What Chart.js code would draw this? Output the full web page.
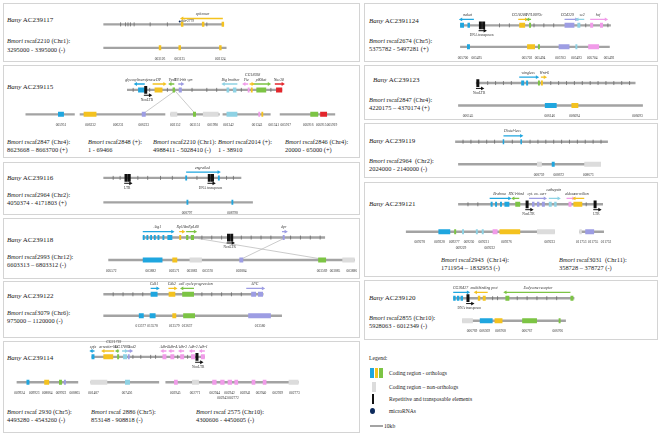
<!DOCTYPE html>
<html lang="en">
<head>
  <meta charset="UTF-8">
  <title>Bany BAC clones vs Bmori scaffolds</title>
  <script src="https://cdn.jsdelivr.net/npm/chart.js"></script>
  <style>
    * { margin: 0; padding: 0; box-sizing: border-box; }
    body { width: 661px; height: 436px; background: #fff; overflow: hidden;
      font-family: "Liberation Serif", "Times New Roman", serif; color: #222; }
    #wrap { position: relative; width: 661px; height: 436px; }
    .panel { position: absolute; border: 1px solid #d4d4d4; }
    .lbl { position: absolute; font-size: 6.4px; line-height: 8.6px; white-space: nowrap; }
    .lbl.bany { font-size: 7px; }
    #chart { position: absolute; left: 0; top: 0; z-index: 2; }
    /* legend */
    .leg { position: absolute; font-size: 5.6px; white-space: nowrap; line-height: 8px; }
    .sw { position: absolute; }
  </style>
</head>
<body>
<div id="wrap">
  <!-- panel boxes -->
  <div class="panel" style="left:3px;top:3px;width:357px;height:59px"></div>
  <div class="panel" style="left:3px;top:65px;width:357px;height:93px"></div>
  <div class="panel" style="left:3px;top:162px;width:357px;height:53px"></div>
  <div class="panel" style="left:3px;top:218px;width:357px;height:61px"></div>
  <div class="panel" style="left:3px;top:281px;width:357px;height:57px"></div>
  <div class="panel" style="left:3px;top:341px;width:357px;height:92px"></div>
  <div class="panel" style="left:364px;top:3px;width:294px;height:59px"></div>
  <div class="panel" style="left:364px;top:65px;width:294px;height:55px"></div>
  <div class="panel" style="left:364px;top:123px;width:294px;height:55px"></div>
  <div class="panel" style="left:364px;top:182px;width:294px;height:95px"></div>
  <div class="panel" style="left:364px;top:280px;width:294px;height:60px"></div>

  <!-- left column labels -->
  <div class="lbl bany" style="left:7px;top:16px"><i>Bany</i> AC239117</div>
  <div class="lbl" style="left:7px;top:37px"><i>Bmori</i> rscaf2210 (Chr1):<br>3295000 - 3395000 (-)</div>

  <div class="lbl bany" style="left:7px;top:82.5px"><i>Bany</i> AC239115</div>
  <div class="lbl" style="left:7px;top:137.5px"><i>Bmori</i> rscaf2847 (Chr4):<br>8623668 – 8663700 (+)</div>
  <div class="lbl" style="left:88px;top:137.5px"><i>Bmori</i> rscaf2848 (+):<br>1 - 69466</div>
  <div class="lbl" style="left:153px;top:137.5px"><i>Bmori</i> rscaf2210 (Chr1):<br>4988411 - 5028410 (-)</div>
  <div class="lbl" style="left:218px;top:137.5px"><i>Bmori</i> rscaf2014 (+):<br>1 - 38910</div>
  <div class="lbl" style="left:285px;top:137.5px"><i>Bmori</i> rscaf2846 (Chr4):<br>20000 - 65000 (+)</div>

  <div class="lbl bany" style="left:7px;top:173.5px"><i>Bany</i> AC239116</div>
  <div class="lbl" style="left:7px;top:190.5px"><i>Bmori</i> rscaf2964 (Chr2):<br>4050374 - 4171803 (+)</div>

  <div class="lbl bany" style="left:7px;top:235.5px"><i>Bany</i> AC239118</div>
  <div class="lbl" style="left:7px;top:252.5px"><i>Bmori</i> rscaf2993 (Chr12):<br>6603313 – 6803312 (-)</div>

  <div class="lbl bany" style="left:7px;top:291.5px"><i>Bany</i> AC239122</div>
  <div class="lbl" style="left:7px;top:308.5px"><i>Bmori</i> rscaf3079 (Chr6):<br>975000 – 1120000 (-)</div>

  <div class="lbl bany" style="left:7px;top:353.5px"><i>Bany</i> AC239114</div>
  <div class="lbl" style="left:7px;top:407.5px"><i>Bmori</i> rscaf 2930 (Chr5):<br>4493280 - 4543260 (-)</div>
  <div class="lbl" style="left:91px;top:407.5px"><i>Bmori</i> rscaf 2886 (Chr5):<br>853148 - 908818 (-)</div>
  <div class="lbl" style="left:196px;top:407.5px"><i>Bmori</i> rscaf 2575 (Chr10):<br>4300606 - 4450605 (-)</div>

  <!-- right column labels -->
  <div class="lbl bany" style="left:369px;top:16.5px"><i>Bany</i> AC2391124</div>
  <div class="lbl" style="left:369px;top:36.5px"><i>Bmori</i> rscaf2674 (Chr5):<br>5375782 - 5497281 (+)</div>

  <div class="lbl bany" style="left:373px;top:75.5px"><i>Bany</i> AC239123</div>
  <div class="lbl" style="left:369px;top:95.5px"><i>Bmori</i> rscaf2847 (Chr4):<br>4220175 – 4370174 (+)</div>

  <div class="lbl bany" style="left:369px;top:136.5px"><i>Bany</i> AC239119</div>
  <div class="lbl" style="left:369px;top:156.5px"><i>Bmori</i> rscaf2964&nbsp; (Chr2):<br>2024000 - 2140000 (-)</div>

  <div class="lbl bany" style="left:369px;top:199.5px"><i>Bany</i> AC239121</div>
  <div class="lbl" style="left:441px;top:255.5px"><i>Bmori</i> rscaf2943&nbsp; (Chr14):<br>1711954 – 1832953 (-)</div>
  <div class="lbl" style="left:559px;top:255.5px"><i>Bmori</i> rscaf3031&nbsp; (Chr11):<br>358728 – 378727 (-)</div>

  <div class="lbl bany" style="left:369px;top:293.5px"><i>Bany</i> AC239120</div>
  <div class="lbl" style="left:369px;top:313.5px"><i>Bmori</i> rscaf2855 (Chr10):<br>5928063 - 6012349 (-)</div>

  <!-- legend -->
  <div class="leg" style="left:369px;top:354px">Legend:</div>
  <div class="sw" style="left:370px;top:368px;width:3.5px;height:10px;background:#1fa6df"></div>
  <div class="sw" style="left:374.5px;top:368px;width:3.5px;height:10px;background:#f4c21f"></div>
  <div class="sw" style="left:379px;top:368px;width:3.5px;height:10px;background:#7cc444"></div>
  <div class="leg" style="left:389px;top:369px">Coding region - orthologs</div>
  <div class="sw" style="left:372px;top:382px;width:3.5px;height:10px;background:#dcdcdc"></div>
  <div class="leg" style="left:389px;top:383px">Coding region – non-orthologs</div>
  <div class="sw" style="left:372px;top:394px;width:2px;height:10px;background:#111"></div>
  <div class="leg" style="left:389px;top:395px">Repetitive and transposable elements</div>
  <div class="sw" style="left:369.5px;top:408px;width:5px;height:6px;border-radius:50%;background:#0d2a5c"></div>
  <div class="leg" style="left:389px;top:407px">microRNAs</div>
  <div class="sw" style="left:370px;top:425px;width:13px;height:2px;background:#a3a3a3"></div>
  <div class="leg" style="left:384px;top:422px">10kb</div>

  <canvas id="chart" width="661" height="436"></canvas>
</div>

<script>
  // ---- data (positions along each sequence in kb) ----
  const trackLength = {
    b117: 98, m2210a: 100,
    b115: 126, m2847a: 40, m2848: 69.5, m2210b: 40, m2014: 39, m2846: 45,
    b116: 112, m2964a: 121.4,
    b118: 148, m2993: 200,
    b122: 130, m3079: 145,
    b114: 92, m2930: 50, m2886: 55.7, m2575: 108,
    b1124: 122.4, m2674: 121.5,
    b123: 129.6, m2847b: 150,
    b119: 124, m2964b: 116,
    b121: 117.6, m2943: 121, m3031: 20,
    b120: 98.4, m2855: 84.3
  };

  // [track, start kb, end kb, colour class]
  const geneBlocks = [
    ['b117', 63, 65, 'yellow'], ['b117', 80, 82, 'yellow'], ['b117', 96, 98, 'yellow'],
    ['m2210a', 45, 47, 'yellow'], ['m2210a', 61, 63, 'yellow'], ['m2210a', 94, 96, 'yellow'],

    ['b115', 9, 14.4, 'blue'], ['b115', 22.4, 28.8, 'yellow'], ['b115', 37, 39, 'green'],
    ['b115', 42, 44.5, 'purple'], ['b115', 80.8, 83, 'cyan'], ['b115', 86, 88.8, 'cyan'],
    ['b115', 98, 99.5, 'pink'], ['b115', 100.5, 102, 'yellow'], ['b115', 105, 113, 'green'],
    ['b115', 121, 126, 'red'],
    ['m2847a', 26.4, 31.2, 'blue'],
    ['m2848', 3.2, 13.6, 'yellow'], ['m2848', 50.4, 53.6, 'purple'],
    ['m2210b', 0, 5.6, 'grey'], ['m2210b', 18.4, 20.8, 'green'], ['m2210b', 26.4, 39.2, 'grey'],
    ['m2014', 3.2, 12, 'cyan'], ['m2014', 29, 30.5, 'pink'], ['m2014', 31.5, 33, 'yellow'],
    ['m2846', 24.8, 31.2, 'green'], ['m2846', 32.8, 38.4, 'red'],

    ['b116', 66.5, 68, 'blue'], ['b116', 93, 94.5, 'blue'],
    ['m2964a', 67.5, 69, 'blue'], ['m2964a', 104, 105.5, 'blue'],

    ['b118', 0, 1.5, 'blue'], ['b118', 3, 4.5, 'blue'], ['b118', 6, 7.5, 'blue'], ['b118', 9, 10.5, 'blue'],
    ['b118', 12, 13.5, 'blue'], ['b118', 16, 17.5, 'blue'], ['b118', 20, 24, 'blue'],
    ['b118', 29.6, 31.2, 'yellow'], ['b118', 35.2, 37, 'green'], ['b118', 39, 41.6, 'green'],
    ['b118', 113.6, 115.2, 'purple'],
    ['m2993', 28, 44, 'blue'], ['m2993', 52, 56, 'yellow'], ['m2993', 66, 76, 'grey'],
    ['m2993', 106.4, 109.6, 'purple'], ['m2993', 170.4, 176.8, 'green'], ['m2993', 190, 200, 'grey'],

    ['b122', 38.4, 44, 'blue'], ['b122', 53, 58.4, 'yellow'], ['b122', 64, 73.6, 'green'],
    ['b122', 120, 124, 'purple'], ['b122', 125.5, 129.6, 'purple'],
    ['m3079', 28.8, 32.8, 'blue'], ['m3079', 37.6, 42.4, 'blue'], ['m3079', 56, 59.2, 'yellow'],
    ['m3079', 64.8, 74.4, 'green'], ['m3079', 117.6, 136, 'purple'],

    ['b114', 0, 2.4, 'blue'], ['b114', 9.6, 17.6, 'yellow'], ['b114', 20.8, 22.4, 'green'],
    ['b114', 25.6, 28.8, 'cyan'], ['b114', 29.5, 31, 'purple'],
    ['b114', 57.6, 60.8, 'pink'], ['b114', 64, 67.2, 'pink'], ['b114', 72, 75.2, 'pink'],
    ['b114', 80.8, 84, 'pink'], ['b114', 88.8, 92, 'pink'],
    ['m2930', 8, 10.4, 'blue'], ['m2930', 22.4, 26.4, 'yellow'], ['m2930', 34.4, 36.8, 'green'], ['m2930', 38.4, 40, 'purple'],
    ['m2886', 0, 13.6, 'grey'], ['m2886', 28, 32, 'cyan'],
    ['m2575', 7, 10, 'pink'], ['m2575', 21.6, 27.2, 'grey'], ['m2575', 38, 41.5, 'pink'], ['m2575', 44.5, 48, 'pink'],
    ['m2575', 50.5, 54, 'pink'], ['m2575', 56, 59, 'pink'], ['m2575', 70, 73, 'pink'], ['m2575', 79, 82, 'pink'],
    ['m2575', 100, 108, 'grey'],

    ['b1124', 0, 3.2, 'blue'], ['b1124', 6, 8, 'blue'], ['b1124', 48, 52.8, 'yellow'], ['b1124', 56, 57.6, 'green'],
    ['b1124', 84.8, 92.8, 'purple'], ['b1124', 95.2, 97.6, 'cyan'], ['b1124', 105.6, 108, 'pink'], ['b1124', 113.6, 116, 'pink'],
    ['m2674', 5.6, 8, 'blue'], ['m2674', 54.4, 60.8, 'yellow'], ['m2674', 63.2, 64.8, 'green'],
    ['m2674', 80, 88.8, 'purple'], ['m2674', 93.6, 95.2, 'cyan'], ['m2674', 104, 112.8, 'pink'],

    ['b123', 36.8, 39.2, 'blue'], ['b123', 40.8, 42.4, 'blue'], ['b123', 50.4, 52, 'green'], ['b123', 52.8, 54.4, 'yellow'],
    ['m2847b', 70.4, 80, 'blue'], ['m2847b', 92, 97.6, 'yellow'],

    ['b119', 38.6, 39.8, 'blue'], ['b119', 53, 54.2, 'blue'],
    ['m2964b', 64, 68, 'grey'], ['m2964b', 76, 78.4, 'blue'], ['m2964b', 102.4, 116, 'grey'],

    ['b121', 26.4, 28, 'blue'], ['b121', 30, 31.6, 'blue'], ['b121', 34, 35.6, 'blue'], ['b121', 37.6, 41.6, 'blue'],
    ['b121', 46.4, 50.4, 'green'], ['b121', 60, 62, 'purple'], ['b121', 64, 66, 'purple'], ['b121', 68, 70.4, 'purple'],
    ['b121', 73.6, 76, 'cyan'], ['b121', 78, 80, 'cyan'], ['b121', 89.6, 92, 'pink'], ['b121', 93.6, 100.8, 'yellow'],
    ['m2943', 26.4, 36, 'blue'], ['m2943', 39.2, 40.8, 'green'], ['m2943', 45.6, 47.2, 'cyan'], ['m2943', 56.8, 58.4, 'cyan'],
    ['m2943', 61.6, 63.2, 'cyan'], ['m2943', 70.4, 74.4, 'pink'], ['m2943', 76, 92.8, 'yellow'], ['m2943', 106.4, 121, 'grey'],
    ['m3031', 0, 2, 'grey'], ['m3031', 4.8, 12, 'purple'],

    ['b120', 0, 2, 'blue'], ['b120', 3, 5, 'blue'], ['b120', 6, 8, 'blue'], ['b120', 20, 22, 'yellow'], ['b120', 24, 26.4, 'yellow'],
    ['b120', 42.4, 45.6, 'green'], ['b120', 95.2, 97.6, 'green'],
    ['m2855', 0, 8.8, 'grey'], ['m2855', 14.4, 24.8, 'blue'], ['m2855', 26.4, 32.8, 'yellow'],
    ['m2855', 48.8, 60.8, 'green'], ['m2855', 78.4, 80, 'green']
  ];

  // [track, from kb, to kb (arrow head), colour, gene name, label row, label kb]
  const geneArrows = [
    ['b117', 97, 64, 'yellow', 'spitzmar'],
    ['b115', 14.4, 7.2, 'blue', 'glycosyltransferase'], ['b115', 20.8, 30.4, 'yellow', 'DP'],
    ['b115', 38.4, 35.2, 'green', 'Vps1'], ['b115', 41.6, 44.8, 'purple', 'RNA-hh syn', 1, 45.5],
    ['b115', 89.6, 78.4, 'cyan', 'Big brother'], ['b115', 98.4, 95.2, 'pink', 'Fie'],
    ['b115', 99.5, 102, 'yellow', 'CG18938', 2, 102], ['b115', 102.4, 115.2, 'green', 'p80kat'],
    ['b115', 120, 126.4, 'red', 'Nuc38'],
    ['b116', 67.2, 93.6, 'blue', 'engrailed'],
    ['b118', 0, 24, 'blue', 'Atg1'], ['b118', 29.6, 32.8, 'yellow', 'Rpl18'],
    ['b118', 35.2, 42.4, 'green', 'mRpL40', 1, 40], ['b118', 113, 116, 'purple', 'dpr'],
    ['b122', 38.4, 44, 'blue', 'Cdk1'], ['b122', 52.8, 58.4, 'yellow', 'Cdk2'],
    ['b122', 73.6, 64, 'green', 'cell cycle progression', 1, 75], ['b122', 116, 129.6, 'purple', 'APC'],
    ['b114', 2.4, 0, 'blue', 'spfe'], ['b114', 18.4, 9.6, 'yellow', 'arrestin-like'],
    ['b114', 22.4, 20.8, 'green', 'CG31719', 2, 18], ['b114', 24.8, 28, 'cyan', 'CG17805', 1, 25],
    ['b114', 29, 32, 'purple', 'Sod2', 1, 33],
    ['b114', 60.8, 57.6, 'pink', 'Adh-5'], ['b114', 67.2, 64, 'pink', 'Adh-4'], ['b114', 75.2, 72, 'pink', 'Adh-3'],
    ['b114', 84, 80.8, 'pink', 'Adh-2'], ['b114', 92, 88.8, 'pink', 'Adh-1'],
    ['b1124', 11.2, 0.8, 'blue', 'nakat'], ['b1124', 47.2, 53.6, 'yellow', 'CG18286', 1, 48],
    ['b1124', 57.6, 55.2, 'green', 'PPL0070c', 1, 60], ['b1124', 84.8, 94.4, 'purple', 'CG4329', 1, 87],
    ['b1124', 100.8, 95.2, 'cyan', 'sc2', 1, 99], ['b1124', 105.6, 118.4, 'pink', 'hsf'],
    ['b123', 35.2, 49.6, 'blue', 'wingless'], ['b123', 52.8, 56, 'yellow', 'Wnt-6', 1, 55.5],
    ['b119', 39.2, 53.6, 'blue', 'Distal-less'],
    ['b121', 25.6, 41.6, 'blue', 'Brahma'], ['b121', 49.6, 44.8, 'green', 'RNA-bind'],
    ['b121', 57.6, 70.4, 'purple', 'cyt. ox. carr'], ['b121', 73.6, 81.6, 'cyan', 'cathepsin', 2],
    ['b121', 88, 93.6, 'pink', 'aldose'], ['b121', 102.4, 94.4, 'yellow', 'vermilion', 1, 100],
    ['b120', 0, 12, 'blue', 'CG30427'], ['b120', 28, 18.4, 'yellow', 'multibinding prot', 1, 25],
    ['b120', 95.2, 42.4, 'green', 'Ecdysone receptor']
  ];

  // [track, kb, label, number of boxes]
  const repeats = [
    ['b115', 15.2, 'NonLTR', 1], ['b116', 18.4, 'LTR', 2], ['b116', 86, 'DNA transposon', 2],
    ['b118', 69.6, 'NonLTR', 2], ['b114', 85.6, 'NonLTR', 1],
    ['b1124', 16.5, 'DNA transposon', 2], ['b123', 1.6, 'NonLTR', 1],
    ['b121', 56, 'NonLTR', 1], ['b121', 111.2, 'LTR', 1], ['b120', 12, 'DNA transposon', 1]
  ];

  // [track, kb, name]
  const microRnas = [['b117', 62, 'mir-2779']];

  // small exon / feature ticks on the BAC sequences (kb)
  const exonTicks = {
    b117: [14, 18, 20, 22, 25, 38, 52, 84],
    b115: [5, 18.4, 32.8, 52.8, 64.8, 72.8, 92.8, 116.8],
    b116: [8, 13.6, 28, 36, 46.4, 56, 76, 100, 105.6],
    b118: [48, 56, 64, 80, 88, 96, 104, 120, 128, 136, 144],
    b122: [8, 16, 24, 32, 80, 88, 96, 104, 112],
    b114: [33.6, 40, 48, 52, 70, 78],
    b1124: [32, 40, 60, 68, 76, 102, 120],
    b123: [9.6, 16, 22.4, 28.8, 60.8, 67.2, 73.6, 80, 86.4, 92.8, 99.2, 105.6, 112, 118.4, 124.8],
    b119: [6.4, 12.8, 19.2, 25.6, 32, 46.4, 60.8, 67.2, 73.6, 80, 86.4, 92.8, 99.2, 105.6, 112, 118.4],
    b121: [8, 16, 104],
    b120: [32, 36, 52, 60, 68, 76, 84]
  };

  // [track, kb, gene id, row]
  const geneIds = [
    ['m2210a', 46, '003126'], ['m2210a', 62, '003125'], ['m2210a', 95, '003124'],
    ['m2847a', 28.8, '005951'],
    ['m2848', 8.8, '006232'], ['m2848', 31.2, '006231'], ['m2848', 52, '006233'],
    ['m2210b', 4, '003152'], ['m2210b', 20, '003151'], ['m2210b', 34.4, '001990'],
    ['m2014', 4.8, '001342'], ['m2014', 28, '001343'], ['m2014', 41.6, '001341'],
    ['m2846', 4.8, '005917'], ['m2846', 23.2, '005916'], ['m2846', 33.6, '005915'], ['m2846', 42.4, '005919'],
    ['m2964a', 68, '008797'], ['m2964a', 104.8, '008798'],
    ['m2993', 2.4, '005572'], ['m2993', 34.4, '003882'], ['m2993', 53.6, '003571'], ['m2993', 68, '003883'],
    ['m2993', 80.8, '003570'], ['m2993', 108, '003884'], ['m2993', 173.6, '003569'], ['m2993', 184, '003885'],
    ['m2993', 197.6, '003886'],
    ['m3079', 30.4, '013577'], ['m3079', 40, '013578'], ['m3079', 57.6, '013579'], ['m3079', 68, '013637'],
    ['m3079', 127.2, '013580'],
    ['m2930', 2.4, '009924'], ['m2930', 14.4, '009923'], ['m2930', 24.8, '008864'], ['m2930', 36, '009922'],
    ['m2930', 47.2, '008865'],
    ['m2886', 2.4, '001487'], ['m2886', 29.6, '007456'],
    ['m2575', 8, '002945'], ['m2575', 24, '002771'], ['m2575', 40, '002944'], ['m2575', 52, '002942'],
    ['m2575', 64.8, '002941'], ['m2575', 77.6, '002940'], ['m2575', 91.2, '002939'], ['m2575', 104.8, '002773'],
    ['m2575', 46.4, '002943', 2], ['m2575', 55.2, '002772', 2],
    ['m2674', 2.4, '005700'], ['m2674', 13.6, '005495'], ['m2674', 54.4, '005702'], ['m2674', 64.8, '005494'],
    ['m2674', 81.6, '005703'], ['m2674', 94.4, '005493'], ['m2674', 107.2, '005704'], ['m2674', 120.8, '005492'],
    ['m2847b', 8, '006145'], ['m2847b', 74.4, '006146'], ['m2847b', 94.4, '006094'], ['m2847b', 145.6, '006093'],
    ['m2964b', 65.6, '008759'], ['m2964b', 81.6, '008672'], ['m2964b', 105.6, '008673'],
    ['m2943', 11.2, '009278'], ['m2943', 27.2, '009228'], ['m2943', 39.2, '009277'], ['m2943', 51.2, '009230'],
    ['m2943', 63.2, '009231'], ['m2943', 81.6, '009276'], ['m2943', 116.8, '009233'],
    ['m2943', 44.8, '009229', 2], ['m2943', 68, '009232', 2],
    ['m3031', 1.6, '011753'], ['m3031', 11.2, '011755'], ['m3031', 21.6, '011752'],
    ['m2855', 8, '006769'], ['m2855', 18.4, '006369'], ['m2855', 31.2, '006768'], ['m2855', 52.8, '006767'],
    ['m2855', 77.6, '006766']
  ];

  // orthology links drawn across panels: [track A, kb A, track B, kb B]
  const links = [
    ['b115', 39, 'm2848', 52], ['b115', 39, 'm2210b', 20],
    ['b118', 45, 'm2993', 173.6], ['b118', 114.4, 'm2993', 108]
  ];

  // ---- layout: page position (px) of each sequence start ----
  const KB_PER_PX = 0.8;   // 10 kb = 12.5 px
  const trackLayout = {
    b117: [100, 20], m2210a: [100, 44],
    b115: [124, 87], m2847a: [21, 112], m2848: [76, 112], m2210b: [168, 112], m2014: [221, 112], m2846: [279, 112],
    b116: [100, 177], m2964a: [100, 202],
    b118: [140, 238], m2993: [105, 261],
    b122: [100, 296], m3079: [100, 318],
    b114: [88, 360], m2930: [12, 386], m2886: [87, 386], m2575: [163, 386],
    b1124: [462, 21], m2674: [462, 43],
    b123: [478, 80], m2847b: [460, 103],
    b119: [457, 140], m2964b: [460, 163],
    b121: [460, 204], m2943: [407, 232], m3031: [583, 232],
    b120: [455, 300], m2855: [464, 323]
  };

  const COLORS = {
    blue: '#1fa6df', yellow: '#f4c21f', green: '#7cc444', purple: '#9d9de3',
    cyan: '#8ed2e4', pink: '#f19be9', red: '#e3262c', grey: '#dcdcdc'
  };

  const X = (k, kb) => trackLayout[k][0] * KB_PER_PX + kb;
  const Y = k => trackLayout[k][1];
  const gap = { x: null, y: null };
  const datasets = [];

  // orthology links
  const linkData = [];
  links.forEach(([a, ka, b, kb]) => linkData.push({ x: X(a, ka), y: Y(a) + 1 }, { x: X(b, kb), y: Y(b) - 1 }, gap));
  datasets.push({ data: linkData, showLine: true, borderColor: '#b5b5b5', borderWidth: 0.7, pointRadius: 0, order: 20 });

  // sequence backbones
  const backbone = [];
  Object.keys(trackLength).forEach(k => backbone.push({ x: X(k, 0), y: Y(k) }, { x: X(k, trackLength[k]), y: Y(k) }, gap));
  datasets.push({ data: backbone, showLine: true, borderColor: '#a3a3a3', borderWidth: 2.4, pointRadius: 0, order: 19 });

  // exon ticks
  const ticks = [];
  Object.entries(exonTicks).forEach(([k, list]) => list.forEach(v => ticks.push({ x: X(k, v), y: Y(k) })));
  datasets.push({ data: ticks, showLine: false, pointStyle: 'line', pointRotation: 90, pointRadius: 2,
    pointBorderColor: '#6a6a6a', pointBorderWidth: 0.8, order: 18 });

  // coding blocks grouped by colour
  const byColor = {};
  geneBlocks.forEach(([k, s, e, c]) => {
    (byColor[c] = byColor[c] || []).push({ x: X(k, s), y: Y(k) }, { x: X(k, e), y: Y(k) }, gap);
  });
  Object.entries(byColor).forEach(([c, data]) => datasets.push({
    data, showLine: true, borderColor: COLORS[c], borderWidth: 5, borderCapStyle: 'butt',
    pointRadius: 0, order: c === 'grey' ? 17 : 16
  }));

  // gene arrows above the BAC sequences
  const arrowByColor = {};
  const heads = [], headRot = [], headCol = [];
  geneArrows.forEach(([k, from, to, c]) => {
    const y = Y(k) - 6;
    (arrowByColor[c] = arrowByColor[c] || []).push({ x: X(k, from), y }, { x: X(k, to), y }, gap);
    heads.push({ x: X(k, to), y });
    headRot.push(to > from ? 90 : -90);
    headCol.push(COLORS[c]);
  });
  Object.entries(arrowByColor).forEach(([c, data]) => datasets.push({
    data, showLine: true, borderColor: COLORS[c], borderWidth: 1.3, pointRadius: 0, order: 12
  }));

  // repetitive elements: black boxes plus a small arrow below
  const teBoxes = [], teArrows = [];
  repeats.forEach(([k, kb, , n]) => {
    for (let i = 0; i < n; i++) {
      const x = X(k, kb + i * 2.6);
      teBoxes.push({ x, y: Y(k) - 4 }, { x, y: Y(k) + 4 }, gap);
    }
    const y = Y(k) + 5.5;
    teArrows.push({ x: X(k, kb - 1.5), y }, { x: X(k, kb + 3.5), y }, gap);
    heads.push({ x: X(k, kb + 3.5), y });
    headRot.push(90);
    headCol.push('#111');
  });
  datasets.push({ data: teBoxes, showLine: true, borderColor: '#111', borderWidth: 3, borderCapStyle: 'butt', pointRadius: 0, order: 11 });
  datasets.push({ data: teArrows, showLine: true, borderColor: '#111', borderWidth: 1, pointRadius: 0, order: 11 });

  datasets.push({ data: heads, showLine: false, pointStyle: 'triangle', pointRotation: headRot, pointRadius: 2.2,
    pointBackgroundColor: headCol, pointBorderColor: headCol, pointBorderWidth: 0, order: 10 });

  // microRNAs
  datasets.push({ data: microRnas.map(([k, kb]) => ({ x: X(k, kb), y: Y(k) - 3 })), showLine: false,
    pointStyle: 'circle', pointRadius: 1, pointBackgroundColor: '#0d2a5c', pointBorderWidth: 0, order: 9 });

  // text drawn at scale positions
  const textPlugin = {
    id: 'featureText',
    afterDatasetsDraw(chart) {
      const { ctx, scales: { x, y } } = chart;
      ctx.save();
      ctx.textAlign = 'center';
      ctx.textBaseline = 'middle';
      ctx.fillStyle = '#333';

      ctx.font = 'italic 3.9px "Liberation Serif"';
      geneArrows.forEach(([k, from, to, , name, row = 1, at]) => {
        const cx = at !== undefined ? at : (from + to) / 2;
        ctx.fillText(name, x.getPixelForValue(X(k, cx)), y.getPixelForValue(Y(k) - 10.5 - (row - 1) * 4.5));
      });

      ctx.font = '3.5px "Liberation Serif"';
      geneIds.forEach(([k, kb, id, row = 1]) => {
        ctx.fillText(id, x.getPixelForValue(X(k, kb)), y.getPixelForValue(Y(k) + (row === 1 ? 11 : 16.5)));
      });
      repeats.forEach(([k, kb, name]) => {
        ctx.fillText(name, x.getPixelForValue(X(k, kb + 1)), y.getPixelForValue(Y(k) + 10));
      });
      microRnas.forEach(([k, kb, name]) => {
        ctx.textAlign = 'left';
        ctx.fillText(name, x.getPixelForValue(X(k, kb + 1)), y.getPixelForValue(Y(k) - 3));
      });
      ctx.restore();
    }
  };

  new Chart(document.getElementById('chart'), {
    type: 'scatter',
    data: { datasets },
    options: {
      responsive: false,
      animation: false,
      events: [],
      layout: { padding: 0 },
      plugins: { legend: { display: false }, tooltip: { enabled: false } },
      scales: {
        x: { type: 'linear', min: 0, max: 661 * KB_PER_PX, display: false },
        y: { type: 'linear', min: 0, max: 436, reverse: true, display: false }
      }
    },
    plugins: [textPlugin]
  });
</script>
</body>
</html>
